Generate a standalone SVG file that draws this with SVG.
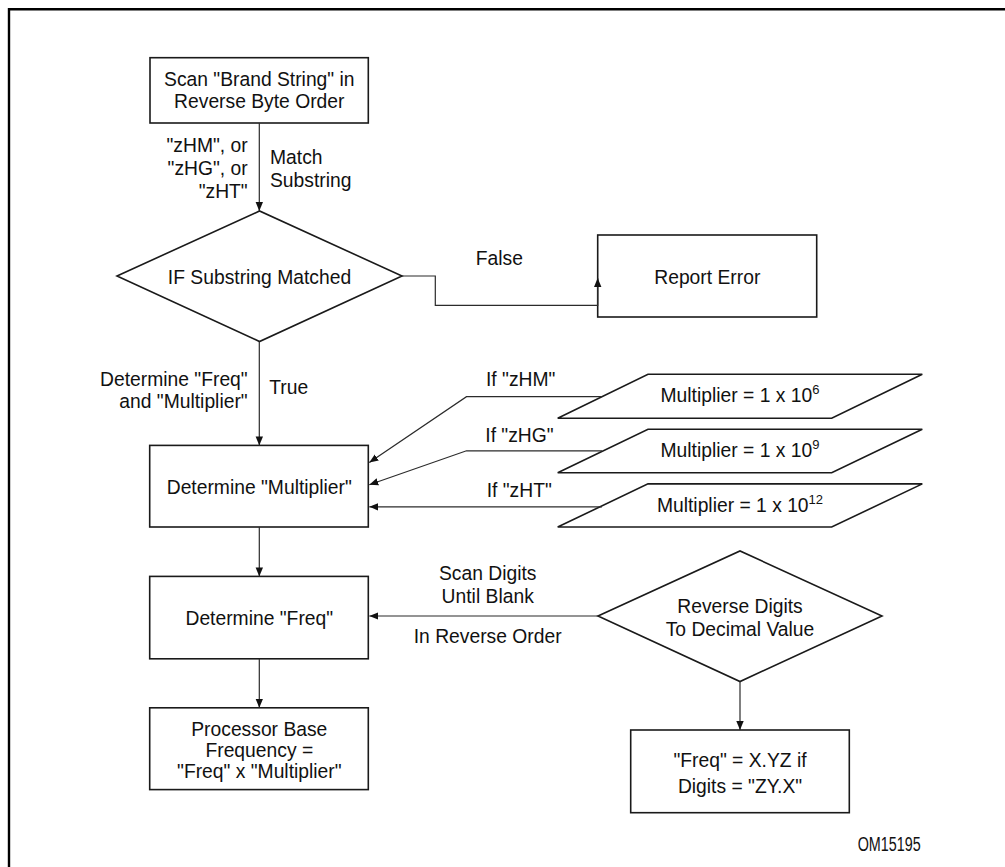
<svg xmlns="http://www.w3.org/2000/svg" width="1005" height="867" viewBox="0 0 1005 867">
<defs>
<style>
.shape{fill:#fff;stroke:#1a1a1a;stroke-width:1.6}
.edge{fill:none;stroke:#2b2b2b;stroke-width:1.2}
text{font-family:"Liberation Sans",Arial,sans-serif;font-size:19.3px;fill:#111}
.c{text-anchor:middle}
.r{text-anchor:end}
.sup{font-size:13px}
.frame{stroke:#000;stroke-width:2.4;fill:none}
</style>
<marker id="arr" markerUnits="userSpaceOnUse" markerWidth="9" markerHeight="8" viewBox="0 0 9 8" refX="9" refY="4" orient="auto">
<path d="M0,0.3 L9,4 L0,7.7 Z" fill="#111"/>
</marker>
</defs>
<rect x="0" y="0" width="1005" height="867" fill="#fff"/>
<path class="frame" d="M9,867 V9.3 H1005"/>

<g id="scan">
<rect class="shape" x="150" y="57.7" width="218.3" height="65.3"/>
<text class="c" x="259.3" y="85.7">Scan "Brand String" in</text>
<text class="c" x="259.3" y="108">Reverse Byte Order</text>
</g>

<g id="if-matched">
<polygon class="shape" points="117,276 259.5,211 402,276 259.5,341.5"/>
<text class="c" x="259.5" y="284">IF Substring Matched</text>
</g>

<g id="report-error">
<rect class="shape" x="597.7" y="235" width="219" height="82"/>
<text class="c" x="707.3" y="284">Report Error</text>
</g>

<g id="mult-6">
<polygon class="shape" points="648,374.3 922.3,374.3 831.7,418.3 557.7,418.3"/>
<text class="c" x="740" y="402.3">Multiplier = 1 x 10<tspan class="sup" dy="-8">6</tspan></text>
</g>

<g id="mult-9">
<polygon class="shape" points="648,429.2 922.3,429.2 831.7,472.7 557.7,472.7"/>
<text class="c" x="740" y="457.3">Multiplier = 1 x 10<tspan class="sup" dy="-8">9</tspan></text>
</g>

<g id="mult-12">
<polygon class="shape" points="648,483.9 922.3,483.9 831.7,527 557.7,527"/>
<text class="c" x="740" y="511.5">Multiplier = 1 x 10<tspan class="sup" dy="-8">12</tspan></text>
</g>

<g id="determine-multiplier">
<rect class="shape" x="149.7" y="445.4" width="218.6" height="81.6"/>
<text class="c" x="259.3" y="493.5">Determine "Multiplier"</text>
</g>

<g id="determine-freq">
<rect class="shape" x="149.7" y="576.4" width="218.6" height="82.4"/>
<text class="c" x="259.3" y="625">Determine "Freq"</text>
</g>

<g id="base-frequency">
<rect class="shape" x="149.7" y="707.8" width="218.6" height="81.8"/>
<text class="c" x="259.3" y="735.8">Processor Base</text>
<text class="c" x="259.3" y="757.2">Frequency =</text>
<text class="c" x="259.3" y="778.4">"Freq" x "Multiplier"</text>
</g>

<g id="reverse-digits">
<polygon class="shape" points="598,616 740,551 882,616 740,681.5"/>
<text class="c" x="740" y="613.3">Reverse Digits</text>
<text class="c" x="740" y="636">To Decimal Value</text>
</g>

<g id="freq-result">
<rect class="shape" x="630.7" y="730" width="218.6" height="82.7"/>
<text class="c" x="740" y="766.7">"Freq" = X.YZ if</text>
<text class="c" x="740" y="792.7">Digits = "ZY.X"</text>
</g>

<g id="connectors">
<path class="edge" marker-end="url(#arr)" d="M259.3,123 V211"/>
<path class="edge" marker-end="url(#arr)" d="M402,276 H435.3 V305.3 H597.7 V278"/>
<path class="edge" marker-end="url(#arr)" d="M259.3,341.5 V445.4"/>
<path class="edge" marker-end="url(#arr)" d="M602,396.7 H466.5 L369.3,462.5"/>
<path class="edge" marker-end="url(#arr)" d="M602,450.8 H466.5 L369.3,484.8"/>
<path class="edge" marker-end="url(#arr)" d="M602,506.8 H369.3"/>
<path class="edge" marker-end="url(#arr)" d="M259.3,527 V576.4"/>
<path class="edge" marker-end="url(#arr)" d="M598,616 H369.3"/>
<path class="edge" marker-end="url(#arr)" d="M259.3,658.8 V707.8"/>
<path class="edge" marker-end="url(#arr)" d="M740,681.5 V730"/>
</g>

<g id="edge-labels">
<text class="r" x="247.7" y="152.3">"zHM", or</text>
<text class="r" x="247.7" y="175">"zHG", or</text>
<text class="r" x="247.7" y="198">"zHT"</text>
<text x="270" y="164.3">Match</text>
<text x="270" y="187">Substring</text>
<text class="c" x="499.3" y="265">False</text>
<text x="486" y="385.7">If "zHM"</text>
<text x="485.3" y="441.7">If "zHG"</text>
<text x="486.7" y="496.7">If "zHT"</text>
<text class="r" x="247.7" y="385.8">Determine "Freq"</text>
<text class="r" x="247.7" y="408">and "Multiplier"</text>
<text x="269.3" y="394.4">True</text>
<text class="c" x="487.7" y="580">Scan Digits</text>
<text class="c" x="487.7" y="602.7">Until Blank</text>
<text class="c" x="487.7" y="642.7">In Reverse Order</text>
</g>

<text x="857.7" y="850.7" font-size="15" textLength="63" lengthAdjust="spacingAndGlyphs">OM15195</text>
</svg>
